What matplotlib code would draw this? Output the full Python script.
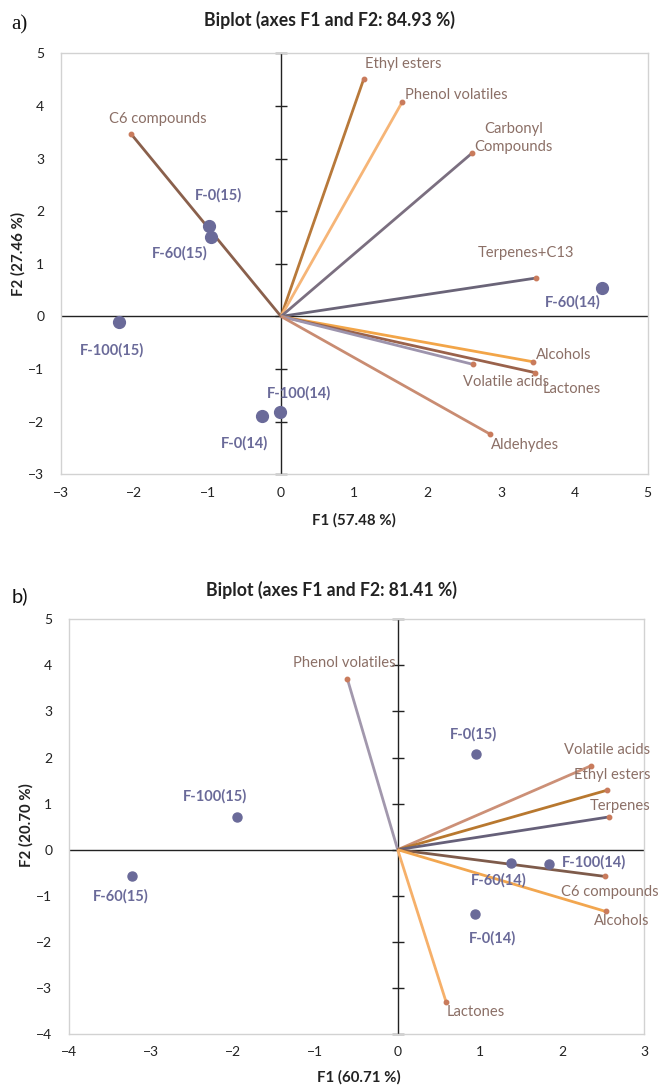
import matplotlib
matplotlib.use("Agg")
import matplotlib.pyplot as plt

plt.rcParams['font.family'] = ['Lato', 'DejaVu Sans']

# ---------------- data: panel a ----------------
a_title = "Biplot (axes F1 and F2: 84.93 %)"
a_xlabel = "F1 (57.48 %)"
a_ylabel = "F2 (27.46 %)"
a_xticks = [-3, -2, -1, 0, 1, 2, 3, 4, 5]
a_yticks = [-3, -2, -1, 0, 1, 2, 3, 4, 5]
a_var_names = ["C6 compounds", "Ethyl esters", "Phenol volatiles", "Carbonyl\nCompounds",
               "Terpenes+C13", "Alcohols", "Lactones", "Volatile acids", "Aldehydes"]
a_var_x = [-2.04, 1.13, 1.655, 2.61, 3.48, 3.43, 3.47, 2.615, 2.855]
a_var_y = [3.46, 4.52, 4.08, 3.11, 0.73, -0.86, -1.07, -0.91, -2.24]
a_obs_names = ["F-0(15)", "F-60(15)", "F-100(15)", "F-0(14)", "F-100(14)", "F-60(14)"]
a_obs_x = [-0.986, -0.95, -2.21, -0.255, -0.02, 4.38]
a_obs_y = [1.72, 1.51, -0.11, -1.89, -1.82, 0.54]

# ---------------- data: panel b ----------------
b_title = "Biplot (axes F1 and F2: 81.41 %)"
b_xlabel = "F1 (60.71 %)"
b_ylabel = "F2 (20.70 %)"
b_xticks = [-4, -3, -2, -1, 0, 1, 2, 3]
b_yticks = [-4, -3, -2, -1, 0, 1, 2, 3, 4, 5]
b_var_names = ["Phenol volatiles", "Volatile acids", "Ethyl esters", "Terpenes",
               "C6 compounds", "Alcohols", "Lactones"]
b_var_x = [-0.613, 2.35, 2.546, 2.567, 2.52, 2.53, 0.588]
b_var_y = [3.71, 1.82, 1.29, 0.71, -0.58, -1.34, -3.30]
b_obs_names = ["F-100(15)", "F-60(15)", "F-0(15)", "F-60(14)", "F-100(14)", "F-0(14)"]
b_obs_x = [-1.96, -3.23, 0.95, 1.375, 1.84, 0.945]
b_obs_y = [0.72, -0.57, 2.07, -0.29, -0.32, -1.39]

# ---------------- styles ----------------
a_var_colors = ['#8a604c', '#b8793a', '#f6b577', '#7b6f80', '#6a6478',
                '#f2a548', '#9a624b', '#9d94ad', '#c98c72']
a_var_offsets = [(26, 15), (39, 15), (54, 7), (41, 15), (-10, 25),
                 (31, 7), (36, -16), (33, -18), (35, -11)]
a_obs_offsets = [(10, 31), (-32, -16), (-7, -28), (-18, -27), (19, 19), (-29, -14)]

b_var_colors = ['#a298ad', '#cc9077', '#b8782f', '#666079', '#7e5b4b', '#f2a64f', '#f6b06a']
b_var_offsets = [(-3, 16), (16, 16), (5, 15), (11, 11), (5, -16), (16, -10), (30, -10)]
b_obs_offsets = [(-22, 20), (-11, -20), (-2, 20), (-12, -17), (45, 2), (17, -25)]

TXT = '#8b6f66'
OBS = '#6a6a99'
TIP = '#c97b5c'

W, H = 658, 1087
fig = plt.figure(figsize=(W / 100, H / 100), dpi=100)


def panel(rect, xticks, yticks, vnames, vx, vy, vcols, voffs,
          onames, ox, oy, ooffs, msize):
    ax = fig.add_axes(rect)
    ax.set_xlim(xticks[0], xticks[-1])
    ax.set_ylim(yticks[0], yticks[-1])
    ax.set_xticks(xticks)
    ax.set_yticks(yticks)
    ax.tick_params(length=0, labelsize=10, colors='#222222')
    ax.tick_params(axis='x', pad=9)
    ax.tick_params(axis='y', pad=12)
    for s in ax.spines.values():
        s.set_color('#d2d2d2')
        s.set_linewidth(1.0)
    ax.axhline(0, color='#222222', lw=1.0, zorder=1)
    ax.axvline(0, color='#222222', lw=1.0, zorder=1)
    ax.plot([0] * len(yticks), yticks, ls='none', marker='_', ms=9,
            mew=1.0, color='#222222', zorder=1, clip_on=False)
    for n, x, y, c, off in zip(vnames, vx, vy, vcols, voffs):
        ax.plot([0, x], [0, y], color=c, lw=2.0, zorder=2, solid_capstyle='butt')
        ax.plot([x], [y], 'o', ms=3.2, color=TIP, zorder=3)
        ax.annotate(n, (x, y), xytext=off, textcoords='offset pixels',
                    ha='center', va='center', fontsize=10.6, color=TXT,
                    linespacing=1.35)
    ax.plot(ox, oy, 'o', ms=msize, color=OBS, zorder=4, ls='none')
    for n, x, y, off in zip(onames, ox, oy, ooffs):
        ax.annotate(n, (x, y), xytext=off, textcoords='offset pixels',
                    ha='center', va='center', fontsize=10.5, color=OBS,
                    fontweight='bold')
    return ax


# panel a
panel([61 / W, 1 - 474.3 / H, 586.7 / W, 421 / H], a_xticks, a_yticks,
      a_var_names, a_var_x, a_var_y, a_var_colors, a_var_offsets,
      a_obs_names, a_obs_x, a_obs_y, a_obs_offsets, 8.5)
fig.text(329.5 / W, 1 - 20 / H, a_title, ha='center', va='center',
         fontsize=12.7, fontweight='bold', color='#222222')
fig.text(354 / W, 1 - 520 / H, a_xlabel, ha='center', va='center',
         fontsize=10.8, fontweight='bold', color='#222222')
fig.text(18 / W, 1 - 254 / H, a_ylabel, ha='center', va='center', rotation=90,
         fontsize=10.8, fontweight='bold', color='#222222')
fig.text(11 / W, 1 - 25 / H, "a)", ha='left', va='center', fontsize=15,
         family='Liberation Serif', color='#111111')

# panel b
panel([68.9 / W, 1 - 1034 / H, 575.4 / W, 414.7 / H], b_xticks, b_yticks,
      b_var_names, b_var_x, b_var_y, b_var_colors, b_var_offsets,
      b_obs_names, b_obs_x, b_obs_y, b_obs_offsets, 6.5)
fig.text(332 / W, 1 - 590 / H, b_title, ha='center', va='center',
         fontsize=12.7, fontweight='bold', color='#222222')
fig.text(359 / W, 1 - 1077 / H, b_xlabel, ha='center', va='center',
         fontsize=10.8, fontweight='bold', color='#222222')
fig.text(26 / W, 1 - 825 / H, b_ylabel, ha='center', va='center', rotation=90,
         fontsize=10.8, fontweight='bold', color='#222222')
fig.text(12 / W, 1 - 596 / H, "b)", ha='left', va='center', fontsize=14.5,
         color='#111111')

fig.savefig("out.png", dpi=100)
